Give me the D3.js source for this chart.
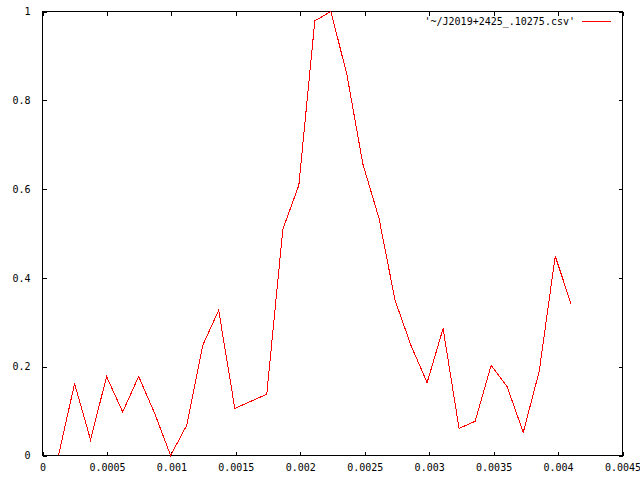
<!DOCTYPE html>
<html>
<head>
<meta charset="utf-8">
<script src="https://cdn.jsdelivr.net/npm/d3@7"></script>
<style>
  body { margin: 0; background: #fff; }
  svg { display: block; }
  text { font-family: "DejaVu Sans Mono", monospace; font-size: 10px; fill: #000; }
</style>
</head>
<body>
<script>
// pulse profile
const phase = [0.000124, 0.000249, 0.000373, 0.000497, 0.000622, 0.000746, 0.000870, 0.000994,
  0.001119, 0.001243, 0.001367, 0.001492, 0.001616, 0.001740, 0.001865, 0.001989,
  0.002113, 0.002238, 0.002362, 0.002486, 0.002611, 0.002735, 0.002859, 0.002984,
  0.003108, 0.003232, 0.003357, 0.003481, 0.003605, 0.003730, 0.003854, 0.003978, 0.004103];
const flux = [0.0, 0.162, 0.035, 0.178, 0.098, 0.178, 0.095, 0.0,
  0.068, 0.248, 0.327, 0.106, 0.122, 0.138, 0.51, 0.609,
  0.979, 1.0, 0.857, 0.656, 0.534, 0.35, 0.248, 0.164,
  0.286, 0.061, 0.077, 0.203, 0.155, 0.052, 0.19, 0.449, 0.34];
const xTicks = [0, 0.0005, 0.001, 0.0015, 0.002, 0.0025, 0.003, 0.0035, 0.004, 0.0045];
const yTicks = [0, 0.2, 0.4, 0.6, 0.8, 1];
const legendLabel = "'~/J2019+2425_.10275.csv'";

const W = 640, H = 480;
const mLeft = 42.5, mRight = 622.5, mTop = 11.5, mBottom = 455.5;

const svg = d3.select("body").append("svg")
    .attr("width", W)
    .attr("height", H);

const x = d3.scaleLinear().domain([0, 0.0045]).range([mLeft, mRight]);
const y = d3.scaleLinear().domain([0, 1]).range([mBottom, mTop]);

const tickLen = 4;

// bottom axis + mirrored top ticks
svg.append("g")
    .attr("transform", `translate(0,${mBottom})`)
    .call(d3.axisBottom(x).tickValues(xTicks).tickSizeInner(-tickLen).tickSizeOuter(0).tickPadding(8)
      .tickFormat(d => d === 0 ? "0" : String(+d.toPrecision(2))))
    .call(g => g.select(".domain").remove());
svg.append("g")
    .attr("transform", `translate(0,${mTop})`)
    .call(d3.axisTop(x).tickValues(xTicks).tickSizeInner(-tickLen).tickSizeOuter(0).tickFormat(""))
    .call(g => g.select(".domain").remove());

// left axis + mirrored right ticks
svg.append("g")
    .attr("transform", `translate(${mLeft},0)`)
    .call(d3.axisLeft(y).tickValues(yTicks).tickSizeInner(-tickLen).tickSizeOuter(0).tickPadding(12)
      .tickFormat(d => String(d)))
    .call(g => g.select(".domain").remove());
svg.append("g")
    .attr("transform", `translate(${mRight},0)`)
    .call(d3.axisRight(y).tickValues(yTicks).tickSizeInner(-tickLen).tickSizeOuter(0).tickFormat(""))
    .call(g => g.select(".domain").remove());

svg.selectAll(".tick line")
    .attr("stroke", "#000")
    .attr("shape-rendering", "crispEdges");
svg.selectAll(".tick text")
    .attr("font-family", "DejaVu Sans Mono")
    .attr("font-size", 10)
    .attr("fill", "#000");

// frame
svg.append("rect")
    .attr("x", mLeft)
    .attr("y", mTop)
    .attr("width", mRight - mLeft)
    .attr("height", mBottom - mTop)
    .attr("fill", "none")
    .attr("stroke", "#000")
    .attr("shape-rendering", "crispEdges");

// data line
const pts = phase.map((p, i) => [p, flux[i]]);
svg.append("path")
    .datum(pts)
    .attr("fill", "none")
    .attr("stroke", "#ff0000")
    .attr("stroke-width", 1)
    .attr("shape-rendering", "crispEdges")
    .attr("d", d3.line().x(d => x(d[0])).y(d => y(d[1])));

// legend
svg.append("text")
    .attr("x", 575)
    .attr("y", 21)
    .attr("dy", "0.35em")
    .attr("text-anchor", "end")
    .text(legendLabel);
svg.append("line")
    .attr("x1", 582)
    .attr("x2", 611)
    .attr("y1", 21.5)
    .attr("y2", 21.5)
    .attr("stroke", "#ff0000")
    .attr("shape-rendering", "crispEdges");
</script>
</body>
</html>
